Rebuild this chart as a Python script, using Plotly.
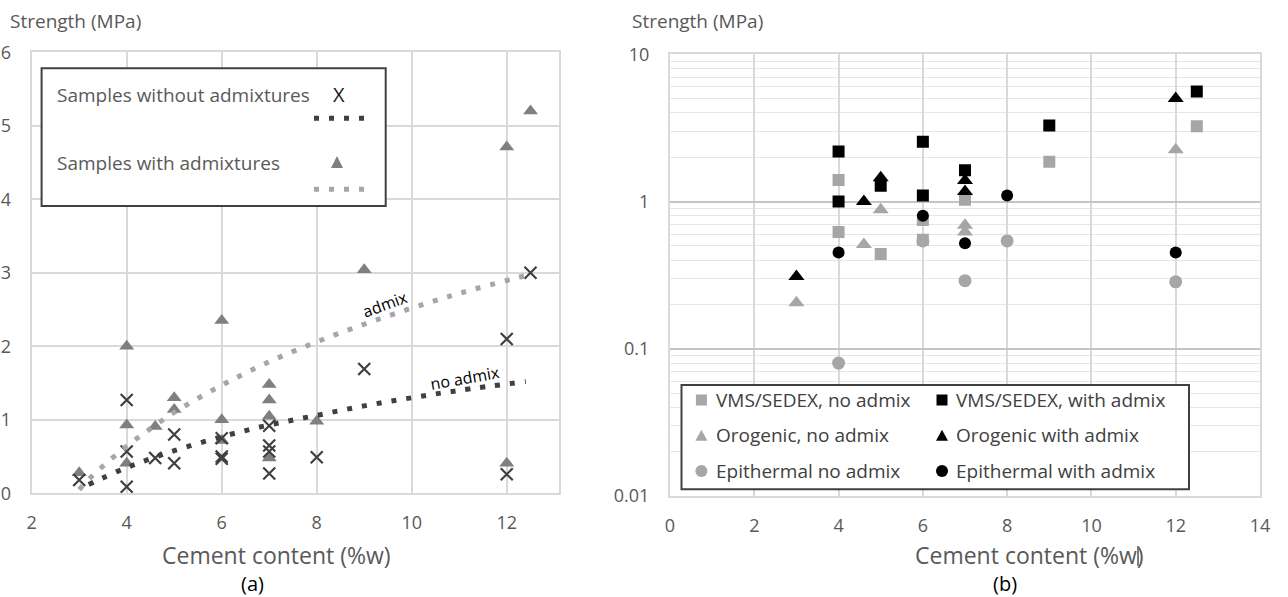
import plotly.graph_objects as go

# ---------------- data: panel (a) ----------------
no_admix_x = [3, 4, 4, 4, 4.6, 5, 5, 6, 6, 6, 7, 7, 7, 7, 8, 9, 12, 12, 12.5]
no_admix_y = [0.18, 1.27, 0.57, 0.09, 0.48, 0.80, 0.41, 0.75, 0.50, 0.47, 0.92, 0.65, 0.57, 0.27, 0.49, 1.69, 2.10, 0.26, 3.00]
admix_x = [3, 4, 4, 4, 4.6, 5, 5, 6, 6, 6, 7, 7, 7, 7, 8, 9, 12, 12, 12.5]
admix_y = [0.28, 2.00, 0.93, 0.41, 0.91, 1.30, 1.14, 2.35, 1.00, 0.72, 1.48, 1.27, 1.05, 0.48, 0.98, 3.04, 4.71, 0.41, 5.20]

# trend lines
trend_no_x = [3.2, 3.5, 4, 4.5, 5, 6, 7, 8, 9, 10, 11, 12.4]
trend_no_y = [0.12, 0.21, 0.35, 0.47, 0.58, 0.77, 0.93, 1.06, 1.19, 1.30, 1.40, 1.52]
trend_ad_x = [3, 3.2, 3.5, 4, 4.5, 5, 6, 7, 8, 9, 10, 11, 12.5]
trend_ad_y = [0.05, 0.19, 0.37, 0.64, 0.88, 1.10, 1.47, 1.79, 2.06, 2.30, 2.52, 2.72, 2.98]

# ---------------- data: panel (b) ----------------
vms_no_x = [4, 4, 5, 6, 6, 7, 9, 12.5]
vms_no_y = [1.40, 0.62, 0.44, 0.75, 0.55, 1.03, 1.86, 3.25]
vms_ad_x = [4, 4, 5, 6, 6, 7, 9, 12.5]
vms_ad_y = [2.19, 1.00, 1.28, 2.55, 1.10, 1.63, 3.29, 5.6]
oro_no_x = [3, 4.6, 5, 7, 7, 12]
oro_no_y = [0.205, 0.51, 0.88, 0.69, 0.62, 2.25]
oro_ad_x = [3, 4.6, 5, 7, 7, 12]
oro_ad_y = [0.31, 1.00, 1.45, 1.39, 1.17, 5.0]
epi_no_x = [4, 6, 7, 8, 12]
epi_no_y = [0.08, 0.54, 0.29, 0.54, 0.285]
epi_ad_x = [4, 6, 7, 8, 12]
epi_ad_y = [0.45, 0.80, 0.52, 1.10, 0.45]

legend_a = ["Samples without admixtures", "Samples with admixtures"]
legend_b = ["VMS/SEDEX, no admix", "VMS/SEDEX, with admix",
            "Orogenic, no admix", "Orogenic with admix",
            "Epithermal no admix", "Epithermal with admix"]

W, H = 1288, 597
def px(x): return x / W
def py(y): return 1 - y / H

FONT = "Open Sans"
GRAYTXT = "#595959"
GRID = "#d9d9d9"
LIGHT = "#a6a6a6"
DARK = "#404040"
MID = "#7f7f7f"

fig = go.Figure()

# panel (a)
fig.add_trace(go.Scatter(x=admix_x, y=admix_y, mode="markers", name=legend_a[1],
                         marker=dict(symbol="triangle-up", size=13, color=MID),
                         xaxis="x", yaxis="y", showlegend=False))
fig.add_trace(go.Scatter(x=no_admix_x, y=no_admix_y, mode="markers", name=legend_a[0],
                         marker=dict(symbol="x-thin", size=12, color=DARK,
                                     line=dict(width=2.2, color=DARK)),
                         xaxis="x", yaxis="y", showlegend=False))
fig.add_trace(go.Scatter(x=trend_ad_x, y=trend_ad_y, mode="lines",
                         line=dict(color=LIGHT, width=5, dash="5px,10px", shape="spline"),
                         xaxis="x", yaxis="y", showlegend=False, hoverinfo="skip"))
fig.add_trace(go.Scatter(x=trend_no_x, y=trend_no_y, mode="lines",
                         line=dict(color=DARK, width=5, dash="5px,10px", shape="spline"),
                         xaxis="x", yaxis="y", showlegend=False, hoverinfo="skip"))

# panel (b)
series_b = [
    (vms_no_x, vms_no_y, "square", LIGHT, 12),
    (oro_no_x, oro_no_y, "triangle-up", LIGHT, 14),
    (epi_no_x, epi_no_y, "circle", LIGHT, 13),
    (vms_ad_x, vms_ad_y, "square", "#000000", 12),
    (oro_ad_x, oro_ad_y, "triangle-up", "#000000", 14),
    (epi_ad_x, epi_ad_y, "circle", "#000000", 12),
]
names_b = [legend_b[0], legend_b[2], legend_b[4], legend_b[1], legend_b[3], legend_b[5]]
for (sx, sy, sym, col, sz), nm in zip(series_b, names_b):
    fig.add_trace(go.Scatter(x=sx, y=sy, mode="markers", name=nm,
                             marker=dict(symbol=sym, size=sz, color=col),
                             xaxis="x2", yaxis="y2", showlegend=False))

tickfont = dict(family=FONT, size=18, color=GRAYTXT)
axis_common = dict(showgrid=True, gridcolor=GRID, gridwidth=2, showline=True,
                   linecolor=GRID, linewidth=2, mirror=True, zeroline=False,
                   ticks="", tickfont=tickfont, fixedrange=True, automargin=False)

fig.update_layout(
    width=W, height=H, margin=dict(l=0, r=0, t=0, b=0, autoexpand=False),
    paper_bgcolor="white", plot_bgcolor="white",
    font=dict(family=FONT, color=GRAYTXT),
    xaxis=dict(domain=[px(31.7), px(559)], range=[2, 13.1], dtick=2, tick0=2,
               anchor="y", ticklabelstandoff=12, **axis_common),
    yaxis=dict(domain=[py(493.3), py(52.3)], range=[0, 6], dtick=1,
               anchor="x", ticklabelstandoff=15, **axis_common),
    xaxis2=dict(domain=[px(670), px(1260)], range=[0, 14], dtick=2, tick0=0,
                anchor="y2", ticklabelstandoff=12, **axis_common),
    yaxis2=dict(domain=[py(496), py(54.3)], type="log", range=[-2, 1],
                tickvals=[0.01, 0.1, 1, 10], ticktext=["0.01", "0.1", "1", "10"],
                anchor="x2", ticklabelstandoff=15,
                minor=dict(showgrid=True, gridcolor="#e6e6e6", gridwidth=1,
                           tickvals=[m * 10.0 ** e for e in (-2, -1, 0) for m in range(2, 10)]),
                **{**axis_common, "gridcolor": "#c4c4c4", "gridwidth": 1.5}),
)

ann = []
def text(x, y, t, size, color=GRAYTXT, xanchor="center", angle=0, xref="paper", yref="paper"):
    ann.append(dict(x=x, y=y, xref=xref, yref=yref, text=t, showarrow=False,
                    xanchor=xanchor, yanchor="middle", textangle=angle,
                    font=dict(family=FONT, size=size, color=color)))

text(px(8), py(21), "Strength (MPa)", 19, xanchor="left")
text(px(630), py(21), "Strength (MPa)", 19, xanchor="left")
text(px(276), py(555), "Cement content (%w)", 23)
text(px(1029), py(555), "Cement content (%w)", 23)
text(px(252), py(583), "(a)", 20, color="#000000")
text(px(1005), py(583), "(b)", 20, color="#000000")
text(9.45, 2.57, "admix", 16, color="#000000", angle=-20, xref="x", yref="y")
text(11.12, 1.57, "no admix", 16, color="#000000", angle=-10, xref="x", yref="y")

shapes = []
# legend (a)
shapes.append(dict(type="rect", xref="paper", yref="paper", x0=px(41.6), x1=px(385.7),
                   y0=py(206), y1=py(68.3), line=dict(color=DARK, width=2),
                   fillcolor="white", layer="above"))
text(px(55), py(95), legend_a[0], 19, xanchor="left")
text(px(339), py(95), "X", 20, color="#1a1a1a")
shapes.append(dict(type="line", xref="paper", yref="paper", x0=px(314), x1=px(368),
                   y0=py(118.3), y1=py(118.3), line=dict(color=DARK, width=5, dash="5px,10px"),
                   layer="above"))
text(px(55), py(163), legend_a[1], 19, xanchor="left")
def tri(cx, cy, w, h, color):
    return dict(type="path", xref="paper", yref="paper", layer="above",
                path=f"M {px(cx - w/2)} {py(cy + h/2)} L {px(cx + w/2)} {py(cy + h/2)} L {px(cx)} {py(cy - h/2)} Z",
                fillcolor=color, line=dict(width=0))
shapes.append(tri(337, 162, 12, 12, MID))
shapes.append(dict(type="line", xref="paper", yref="paper", x0=px(314), x1=px(368),
                   y0=py(189.3), y1=py(189.3), line=dict(color=LIGHT, width=5, dash="5px,10px"),
                   layer="above"))

# legend (b)
shapes.append(dict(type="rect", xref="paper", yref="paper", x0=px(681.5), x1=px(1189),
                   y0=py(489.3), y1=py(385), line=dict(color=DARK, width=2),
                   fillcolor="white", layer="above"))
rows = [400, 435.3, 471]
cols = [(701.4, 713.5), (942, 954)]
def sq(cx, cy, s, color):
    return dict(type="rect", xref="paper", yref="paper", layer="above",
                x0=px(cx - s/2), x1=px(cx + s/2), y0=py(cy + s/2), y1=py(cy - s/2),
                fillcolor=color, line=dict(width=0))
def circ(cx, cy, s, color):
    return dict(type="circle", xref="paper", yref="paper", layer="above",
                x0=px(cx - s/2), x1=px(cx + s/2), y0=py(cy + s/2), y1=py(cy - s/2),
                fillcolor=color, line=dict(width=0))
for ci, (sx, tx) in enumerate(cols):
    col = LIGHT if ci == 0 else "#000000"
    shapes.append(sq(sx, rows[0], 11, col))
    shapes.append(tri(sx, rows[1], 12, 11, col))
    shapes.append(circ(sx, rows[2], 12, col))
    for ri in range(3):
        text(px(tx), py(rows[ri]), legend_b[ri * 2 + ci], 19, color=DARK, xanchor="left")

# text cursor mark seen in the right axis title
shapes.append(dict(type="line", xref="paper", yref="paper", x0=px(1138), x1=px(1138),
                   y0=py(566), y1=py(546), line=dict(color="#000000", width=1)))

fig.update_layout(annotations=ann, shapes=shapes)
# remove the default 8px page margin so the 1288x597 figure fills the window exactly
fig.write_html("out.html", config={"displayModeBar": False},
               post_script="document.body.style.margin='0px';")
